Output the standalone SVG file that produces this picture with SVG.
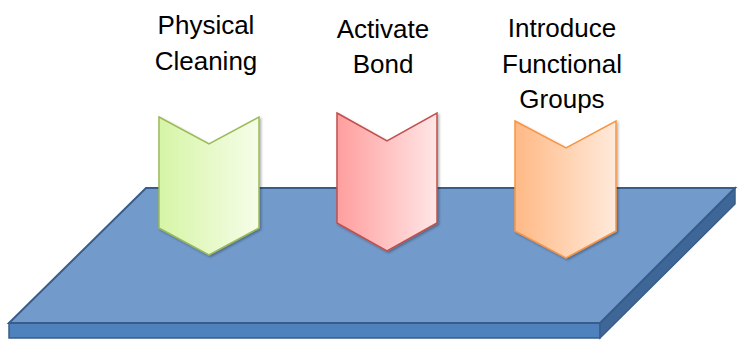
<svg xmlns="http://www.w3.org/2000/svg" width="741" height="354" viewBox="0 0 741 354">
<style>
.lbl{font-family:"Liberation Sans",Arial,sans-serif;font-size:26px;fill:#000;text-anchor:middle}
</style>
<defs>
<linearGradient id="gG" x1="0" y1="0" x2="1" y2="0"><stop offset="0" stop-color="#d6f5a6"/><stop offset="1" stop-color="#f6fde9"/></linearGradient>
<linearGradient id="gR" x1="0" y1="0" x2="1" y2="0"><stop offset="0" stop-color="#ff9e9e"/><stop offset="1" stop-color="#ffe6e6"/></linearGradient>
<linearGradient id="gO" x1="0" y1="0" x2="1" y2="0"><stop offset="0" stop-color="#ffb985"/><stop offset="1" stop-color="#ffeadb"/></linearGradient>
<filter id="sh" x="-10%" y="-10%" width="130%" height="130%"><feDropShadow dx="1.5" dy="1.5" stdDeviation="1.2" flood-color="#000" flood-opacity="0.3"/></filter>
</defs>
<g id="plate">
<polygon points="9,323 600,323 600,338 9,338" fill="#4f81bd" stroke="#385d8a" stroke-width="1.5"/>
<polygon points="600,323 735,188 735,204 600,338" fill="#3e6696" stroke="#385d8a" stroke-width="1.5"/>
<polygon points="146,188 735,188 600,323 9,323" fill="#729acb" stroke="#385d8a" stroke-width="2"/>
</g>
<g id="chevron-green">
<polygon points="159,117 209,144 259,117 259,228 209,255 159,228" fill="url(#gG)" stroke="#9bbb59" stroke-width="1.5" filter="url(#sh)"/>
</g>
<g id="chevron-red">
<polygon points="337,113 387,141 437,113 437,223 387,251 337,223" fill="url(#gR)" stroke="#c0504d" stroke-width="1.5" filter="url(#sh)"/>
</g>
<g id="chevron-orange">
<polygon points="515,121 566,148 616,121 616,231 566,258 515,231" fill="url(#gO)" stroke="#f79646" stroke-width="1.5" filter="url(#sh)"/>
</g>
<g id="label-physical">
<text class="lbl" x="206" y="34">Physical</text>
<text class="lbl" x="206" y="70">Cleaning</text>
</g>
<g id="label-activate">
<text class="lbl" x="383" y="38">Activate</text>
<text class="lbl" x="383" y="73">Bond</text>
</g>
<g id="label-introduce">
<text class="lbl" x="562" y="37">Introduce</text>
<text class="lbl" x="562" y="73">Functional</text>
<text class="lbl" x="562" y="108">Groups</text>
</g>
<g id="connectors"/>
</svg>
